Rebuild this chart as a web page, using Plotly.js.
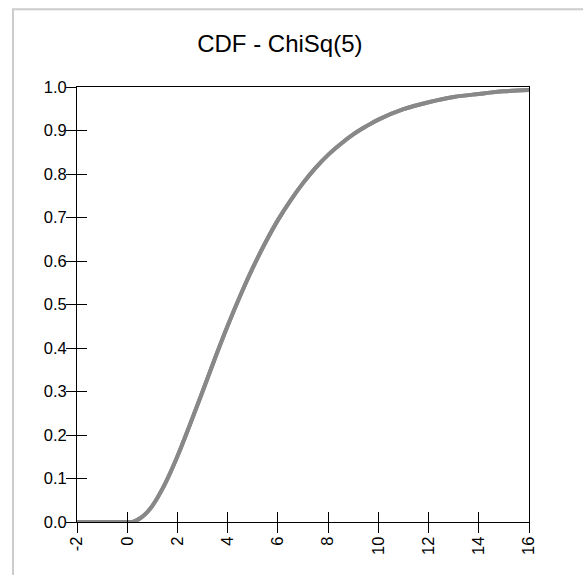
<!DOCTYPE html>
<html>
<head>
<meta charset="utf-8">
<script src="https://cdn.plot.ly/plotly-3.0.1.min.js"></script>
<style>html,body{margin:0;padding:0;background:#fff;}#chart{width:583px;height:575px;}</style>
</head>
<body>
<div id="chart"></div>
<script>
// Values
const xValues = [-2, -1, 0, 0.25, 0.5, 0.75, 1, 1.5, 2, 2.5, 3, 3.5, 4, 4.5, 5, 5.5, 6, 6.5, 7, 7.5, 8, 8.5, 9, 9.5, 10, 11, 12, 13, 14, 15, 16];
const cdfValues = [0, 0, 0, 0.001, 0.008, 0.020, 0.037, 0.087, 0.151, 0.224, 0.300, 0.377, 0.451, 0.520, 0.584, 0.642, 0.694, 0.739, 0.779, 0.814, 0.844, 0.869, 0.891, 0.909, 0.925, 0.949, 0.965, 0.977, 0.984, 0.990, 0.993];
const xTicks = [-2, 0, 2, 4, 6, 8, 10, 12, 14, 16];
const yTicks = [0, 0.1, 0.2, 0.3, 0.4, 0.5, 0.6, 0.7, 0.8, 0.9, 1.0];
const chartTitle = "CDF - ChiSq(5)";

const font = "Liberation Sans, Arial, sans-serif";
const trace = {
  x: xValues, y: cdfValues, type: "scatter", mode: "lines",
  line: {color: "#888888", width: 4, shape: "spline"},
  hoverinfo: "skip", cliponaxis: false
};
const axisCommon = {
  showgrid: false, zeroline: false, showline: true, linecolor: "#000", linewidth: 1,
  mirror: true, ticks: "outside", ticklen: 10, tickcolor: "#000", tickwidth: 1,
  ticklabelstandoff: -4,
  tickfont: {family: font, size: 16.5, color: "#000"}
};
const layout = {
  width: 583, height: 575,
  margin: {l: 77, r: 54, t: 87, b: 53},
  paper_bgcolor: "#fff", plot_bgcolor: "#fff",
  showlegend: false,
  title: {text: chartTitle, font: {family: font, size: 24, color: "#000"}, xref: "container", x: 0.48, xanchor: "center", y: 0.925, yanchor: "middle"},
  xaxis: Object.assign({}, axisCommon, {range: [-2, 16], tickmode: "array", tickvals: xTicks, ticktext: xTicks.map(String), tickangle: -90, ticklabelstandoff: -3}),
  yaxis: Object.assign({}, axisCommon, {range: [0, 1], tickmode: "array", tickvals: yTicks, ticktext: yTicks.map(v => v.toFixed(1))}),
  xaxis2: {overlaying: "x", matches: "x", range: [-2, 16], tickmode: "array", tickvals: xTicks, ticks: "inside", ticklen: 10, tickcolor: "#000", showticklabels: false, showgrid: false, zeroline: false, showline: false},
  yaxis2: {overlaying: "y", matches: "y", range: [0, 1], tickmode: "array", tickvals: yTicks, ticks: "inside", ticklen: 10, tickcolor: "#000", showticklabels: false, showgrid: false, zeroline: false, showline: false},
  shapes: [{type: "rect", xref: "paper", yref: "paper", x0: -0.1416, x1: 1.3, y0: -0.3, y1: 1.179, line: {color: "#cccccc", width: 2}, layer: "below"}]
};
const trace2 = Object.assign({}, trace, {xaxis: "x2", yaxis: "y2"});
Plotly.newPlot("chart", [trace, trace2], layout, {displayModeBar: false, staticPlot: true});
</script>
</body>
</html>
